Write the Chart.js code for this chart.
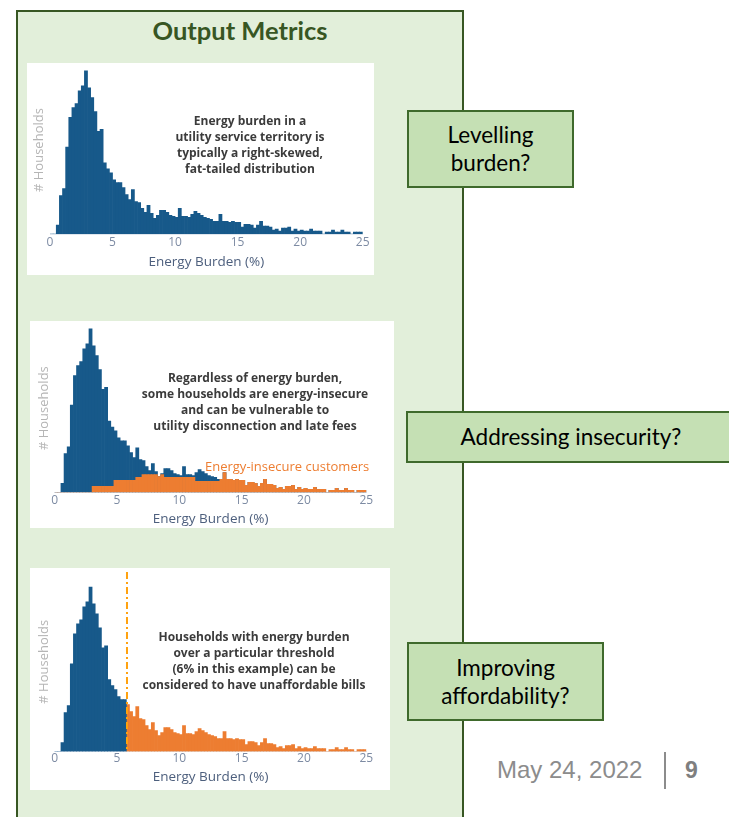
<!DOCTYPE html>
<html>
<head>
<meta charset="utf-8">
<script src="https://cdn.jsdelivr.net/npm/chart.js@4.4.1/dist/chart.umd.min.js"></script>
<style>
  body { margin: 0; width: 729px; height: 817px; position: relative; overflow: hidden; background: #fff; font-family: 'Open Sans', sans-serif; }
  .abs { position: absolute; }
  #panel { left: 16px; top: 10px; width: 448px; height: 830px; background: #e2efda; border: 2px solid #385723; box-sizing: border-box; }
  #title { left: 16px; top: 13px; width: 448px; text-align: center; font-family: Lato, sans-serif; font-weight: 700; font-size: 25.5px; color: #375623; line-height: 34px; }
  .card { background: #fff; }
  .card canvas { position: absolute; left: 0; top: 0; }
  .note { position: absolute; text-align: center; font-weight: 700; font-size: 12px; line-height: 16px; color: #3b3b3b; white-space: nowrap; transform: translateX(-50%); }
  .box { position: absolute; background: #c5e0b4; border: 2px solid #3f6a2c; box-sizing: border-box; display: flex; align-items: center; justify-content: center; text-align: center; font-family: Lato, sans-serif; font-size: 22.5px; line-height: 28px; color: #000; }
  #date { left: 497px; top: 755px; font-family: 'Liberation Sans', Arial, sans-serif; font-size: 24px; color: #8c8c8c; line-height: 30px; }
  #sep { left: 664px; top: 752px; width: 2px; height: 37px; background: #8c8c8c; }
  #page { left: 685px; top: 755px; font-family: 'Liberation Sans', Arial, sans-serif; font-size: 23px; font-weight: 700; color: #7f7f7f; line-height: 30px; }
</style>
</head>
<body>
<div id="panel" class="abs"></div>
<div id="title" class="abs">Output Metrics</div>

<div class="abs card" style="left:27px;top:63px;width:347px;height:212px;">
  <canvas id="c1"></canvas>
  <div class="note" style="left:223px;top:50px;">Energy burden in a<br>utility service territory is<br>typically a right-skewed,<br>fat-tailed distribution</div>
</div>

<div class="abs card" style="left:30px;top:321px;width:364px;height:207px;">
  <canvas id="c2"></canvas>
  <div class="note" style="left:225px;top:49px;">Regardless of energy burden,<br>some households are energy-insecure<br>and can be vulnerable to<br>utility disconnection and late fees</div>
  <div class="abs" style="left:175px;top:136px;font-size:13px;line-height:18px;color:#ed7d31;white-space:nowrap;">Energy-insecure customers</div>
</div>

<div class="abs card" style="left:30px;top:568px;width:360px;height:222px;">
  <canvas id="c3"></canvas>
  <div class="note" style="left:224px;top:61px;">Households with energy burden<br>over a particular threshold<br>(6% in this example) can be<br>considered to have unaffordable bills</div>
</div>

<div class="box" style="left:407px;top:110px;width:167px;height:78px;">Levelling<br>burden?</div>
<div class="box" style="left:406px;top:411px;width:330px;height:52px;">Addressing insecurity?</div>
<div class="box" style="left:407px;top:642px;width:197px;height:79px;">Improving<br>affordability?</div>

<div id="date" class="abs">May 24, 2022</div>
<div id="sep" class="abs"></div>
<div id="page" class="abs">9</div>

<script>
// histogram bins: 0.25 % wide, 0 to 25 %
const binWidth = 0.25;
const binCenters = [];
for (let i = 0; i < 100; i++) binCenters.push(binWidth * i + binWidth / 2);

// number of households per bin
const households = [
  0, 0, 9, 39, 46, 88, 118, 128, 132, 145,
  150, 165, 148, 138, 124, 104, 106, 72, 66, 62,
  55, 52, 52, 47, 40, 35, 45, 33, 32, 26,
  22, 29, 21, 16, 19, 24, 24, 22, 19, 18,
  17, 26, 18, 18, 17, 20, 23, 21, 19, 17,
  16, 15, 13, 13, 20, 13, 13, 12, 13, 12,
  12, 7, 10, 10, 9, 6, 9, 13, 8, 8,
  7, 4, 5, 3, 6, 6, 7, 3, 5, 3,
  4, 3, 3, 5, 3, 3, 3, 0, 2, 2,
  4, 2, 2, 4, 2, 2, 0, 2, 2, 2
];

// energy-insecure households per bin
const insecure = [
  0, 0, 0, 0, 0, 0, 0, 0, 0, 0,
  0, 0, 6, 6, 6, 6, 6, 6, 6, 12,
  12, 12, 12, 12, 12, 12, 15, 15, 18, 18,
  18, 18, 18, 16, 18, 15, 15, 15, 15, 15,
  15, 15, 15, 15, 15, 11, 11, 11, 11, 11,
  11, 11, 11, 13, 20, 13, 13, 12, 13, 12,
  12, 7, 10, 10, 9, 6, 9, 13, 8, 8,
  7, 4, 5, 3, 6, 6, 7, 3, 5, 3,
  4, 3, 3, 5, 3, 3, 3, 0, 2, 2,
  4, 2, 2, 4, 2, 2, 0, 2, 2, 2
];

const threshold = 5.8;   // affordability threshold line position
const xTicks = [0, 5, 10, 15, 20, 25];

const BLUE = '#17598a';
const ORANGE = '#ed7d31';

Chart.defaults.font.family = "'Open Sans', sans-serif";

function pts(arr) {
  return arr.map((v, i) => ({ x: binCenters[i], y: v }));
}

function bars(arr, color) {
  return {
    data: pts(arr),
    backgroundColor: color,
    borderWidth: 0,
    barPercentage: 1,
    categoryPercentage: 1,
    grouped: false
  };
}

const thresholdLine = {
  id: 'thresholdLine',
  afterDatasetsDraw(chart, args, opts) {
    if (opts.value == null) return;
    const { ctx, chartArea, scales } = chart;
    const x = scales.x.getPixelForValue(opts.value);
    ctx.save();
    ctx.strokeStyle = '#ffa20f';
    ctx.lineWidth = 2;
    ctx.setLineDash([7, 3, 2, 3]);
    ctx.beginPath();
    ctx.moveTo(x, chartArea.top);
    ctx.lineTo(x, chartArea.bottom);
    ctx.stroke();
    ctx.restore();
  }
};

function makeChart(id, datasets, o) {
  return new Chart(document.getElementById(id), {
    type: 'bar',
    data: { datasets: datasets },
    plugins: [thresholdLine],
    options: {
      responsive: true,
      maintainAspectRatio: false,
      animation: false,
      layout: { padding: o.padding },
      plugins: {
        legend: { display: false },
        tooltip: { enabled: false },
        thresholdLine: { value: o.threshold }
      },
      scales: {
        x: {
          type: 'linear',
          min: 0,
          max: 25,
          offset: false,
          afterBuildTicks: (s) => { s.ticks = xTicks.map(v => ({ value: v })); },
          grid: { display: false, drawTicks: false, offset: false },
          border: { display: true, color: '#dfe6ee', width: 1 },
          ticks: { padding: o.tickPad, color: '#7d8ba3', font: { size: 12 } },
          title: { display: true, text: 'Energy Burden (%)', color: '#4d5f7d', font: { size: 13.5 }, padding: { top: o.titlePad, bottom: 0 } }
        },
        y: {
          min: 0,
          max: o.yMax,
          grid: { display: false, drawTicks: false },
          border: { display: false },
          ticks: { display: false },
          title: { display: true, text: '# Households', color: '#b5b5b5', font: { size: 13 }, padding: { top: 0, bottom: 3 } }
        }
      }
    }
  });
}

makeChart('c1', [bars(households, BLUE)], {
  padding: { left: 4.4, right: 11.3, top: 3, bottom: 4.5 }, tickPad: 1.5, titlePad: 2.8, yMax: 170
});

makeChart('c2', [bars(insecure, ORANGE), bars(households, BLUE)], {
  padding: { left: 6.1, right: 27.7, top: 3, bottom: 0.3 }, tickPad: 1, titlePad: 2.8, yMax: 170
});

const below = households.map((v, i) => binCenters[i] < threshold ? v : null);
const above = households.map((v, i) => binCenters[i] < threshold ? null : v);
makeChart('c3', [bars(below, BLUE), bars(above, ORANGE)], {
  padding: { left: 6.1, right: 23.7, top: 4, bottom: 4.5 }, tickPad: 0.2, titlePad: 3, yMax: 180, threshold: threshold
});
</script>
</body>
</html>
